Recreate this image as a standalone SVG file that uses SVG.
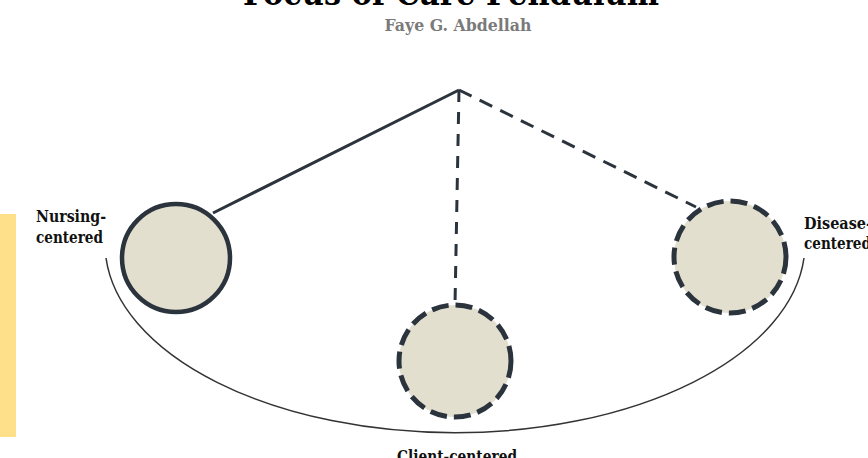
<svg xmlns="http://www.w3.org/2000/svg" width="868" height="458" viewBox="0 0 868 458">
<style>
.node{fill:#e2dfcf;stroke:#2b333d;stroke-width:4.5}
.dashed{stroke-width:5;stroke-dasharray:17 7}
.conn{stroke:#2b333d;stroke-width:3;fill:none}
.lbl{font-family:"DejaVu Serif","Liberation Serif",serif;font-weight:bold;font-size:16px;fill:#111}
</style>
<rect x="0" y="214" width="16" height="223" fill="#ffe08a"/>
<text x="451" y="5" text-anchor="middle" font-family="'DejaVu Serif',serif" font-weight="900" font-size="34" fill="#000" textLength="416" lengthAdjust="spacingAndGlyphs">Focus of Care Pendulum</text>
<text x="458" y="31" text-anchor="middle" font-family="'DejaVu Serif',serif" font-weight="bold" font-size="16" fill="#7a7a7a" textLength="147" lengthAdjust="spacingAndGlyphs">Faye G. Abdellah</text>
<path d="M106,258 A350,189 0 0 0 804,258" fill="none" stroke="#333" stroke-width="1.5"/>
<g id="connectors">
<line class="conn" x1="459" y1="90" x2="213" y2="213"/>
<line class="conn" x1="459" y1="90" x2="455" y2="305" stroke-dasharray="12 10"/>
<line class="conn" x1="459" y1="90" x2="696" y2="207" stroke-dasharray="14 9"/>
</g>
<g id="nursing">
<circle class="node" cx="176" cy="258" r="54"/>
<text class="lbl" x="36" y="222" textLength="70" lengthAdjust="spacingAndGlyphs">Nursing-</text>
<text class="lbl" x="36" y="243" textLength="67" lengthAdjust="spacingAndGlyphs">centered</text>
</g>
<g id="client">
<circle class="node dashed" cx="455" cy="361" r="56"/>
<text class="lbl" x="397" y="462" textLength="120" lengthAdjust="spacingAndGlyphs">Client-centered</text>
</g>
<g id="disease">
<circle class="node dashed" cx="730" cy="257" r="56"/>
<text class="lbl" x="804" y="229" textLength="68" lengthAdjust="spacingAndGlyphs">Disease-</text>
<text class="lbl" x="804" y="249" textLength="67" lengthAdjust="spacingAndGlyphs">centered</text>
</g>
</svg>
